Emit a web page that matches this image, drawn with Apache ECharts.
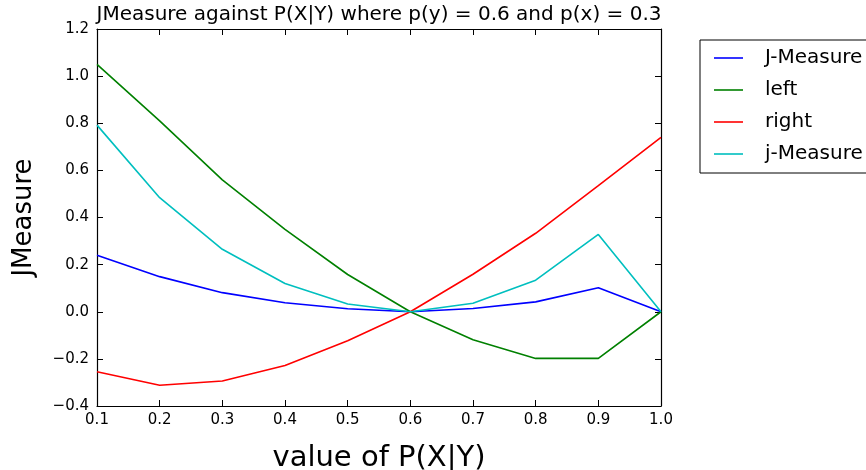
<!DOCTYPE html>
<html>
<head>
<meta charset="utf-8">
<script src="https://cdn.jsdelivr.net/npm/echarts@6/dist/echarts.min.js"></script>
<style>html,body{margin:0;padding:0;background:#fff}#c{width:866px;height:470px}</style>
</head>
<body>
<div id="c"></div>
<script>
var xValues = [0.1, 0.2, 0.3, 0.4, 0.5, 0.6, 0.7, 0.8, 0.9, 1.0];
var jMeasureUpper = [0.240, 0.149, 0.081, 0.038, 0.013, 0.0, 0.014, 0.042, 0.102, 0.0];
var leftVals = [1.050, 0.810, 0.560, 0.350, 0.158, 0.0, -0.119, -0.198, -0.198, 0.0];
var rightVals = [-0.255, -0.312, -0.294, -0.228, -0.123, 0.0, 0.159, 0.333, 0.535, 0.740];
var jMeasureLower = [0.792, 0.484, 0.265, 0.120, 0.033, 0.0, 0.036, 0.134, 0.328, 0.0];
var seriesNames = ['J-Measure', 'left', 'right', 'j-Measure'];
var seriesColors = ['#0000ff', '#008000', '#ff0000', '#00bfbf'];
var titleText = 'JMeasure against P(X|Y) where p(y) = 0.6 and p(x) = 0.3';
var xName = 'value of P(X|Y)';
var yName = 'JMeasure';

var FONT = 'DejaVu Sans';
function pairs(arr) { return xValues.map(function (x, i) { return [x, arr[i]]; }); }
function fmt(v) { return (Math.round(v * 10) / 10).toFixed(1).replace('-', '\u2212'); }
var allVals = [jMeasureUpper, leftVals, rightVals, jMeasureLower];

var chart = echarts.init(document.getElementById('c'), null, { renderer: 'canvas' });
var axisCommon = {
  type: 'value',
  axisLine: { show: true, onZero: false, lineStyle: { color: '#000', width: 1.2 } },
  axisTick: { show: true, inside: true, length: 6, lineStyle: { color: '#000', width: 1 } },
  splitLine: { show: false }
};
chart.setOption({
  animation: false,
  backgroundColor: '#fff',
  grid: { left: 97, right: 205, top: 29, bottom: 64, containLabel: false, outerBoundsMode: 'none' },
  graphic: [{
    type: 'text', x: 379, y: 15,
    style: { text: titleText, font: '20px "DejaVu Sans"', fill: '#000', textAlign: 'center', textVerticalAlign: 'middle' }
  }],
  legend: {
    orient: 'vertical', left: 700, top: 40,
    padding: [8, 12, 9, 14],
    itemWidth: 29, itemHeight: 1.6, itemGap: 12,
    icon: 'rect',
    borderColor: '#000', borderWidth: 1, backgroundColor: '#fff',
    textStyle: { fontFamily: FONT, fontSize: 20, lineHeight: 20, color: '#000', padding: [0, 0, 0, 17] },
    data: seriesNames
  },
  xAxis: [
    Object.assign({}, axisCommon, {
      position: 'bottom', min: 0.1, max: 1.0, interval: 0.1,
      name: xName, nameLocation: 'middle', nameGap: 38,
      nameTextStyle: { fontFamily: FONT, fontSize: 29, color: '#000' },
      axisLabel: { show: true, margin: 7, fontFamily: FONT, fontSize: 15, color: '#000', formatter: fmt }
    }),
    Object.assign({}, axisCommon, {
      position: 'top', min: 0.1, max: 1.0, interval: 0.1,
      axisLabel: { show: false }
    })
  ],
  yAxis: [
    Object.assign({}, axisCommon, {
      position: 'left', min: -0.4, max: 1.2, interval: 0.2,
      name: yName, nameLocation: 'middle', nameGap: 60, nameRotate: 90,
      nameTextStyle: { fontFamily: FONT, fontSize: 26, color: '#000' },
      axisLabel: { show: true, margin: 8, fontFamily: FONT, fontSize: 15, color: '#000', formatter: fmt }
    }),
    Object.assign({}, axisCommon, {
      position: 'right', min: -0.4, max: 1.2, interval: 0.2,
      axisLabel: { show: false }
    })
  ],
  series: seriesNames.map(function (n, i) {
    return {
      name: n, type: 'line', xAxisIndex: 0, yAxisIndex: 0,
      data: pairs(allVals[i]), symbol: 'none', showSymbol: false,
      lineStyle: { color: seriesColors[i], width: 1.6 },
      itemStyle: { color: seriesColors[i] },
      z: 2 + i
    };
  })
});
</script>
</body>
</html>
